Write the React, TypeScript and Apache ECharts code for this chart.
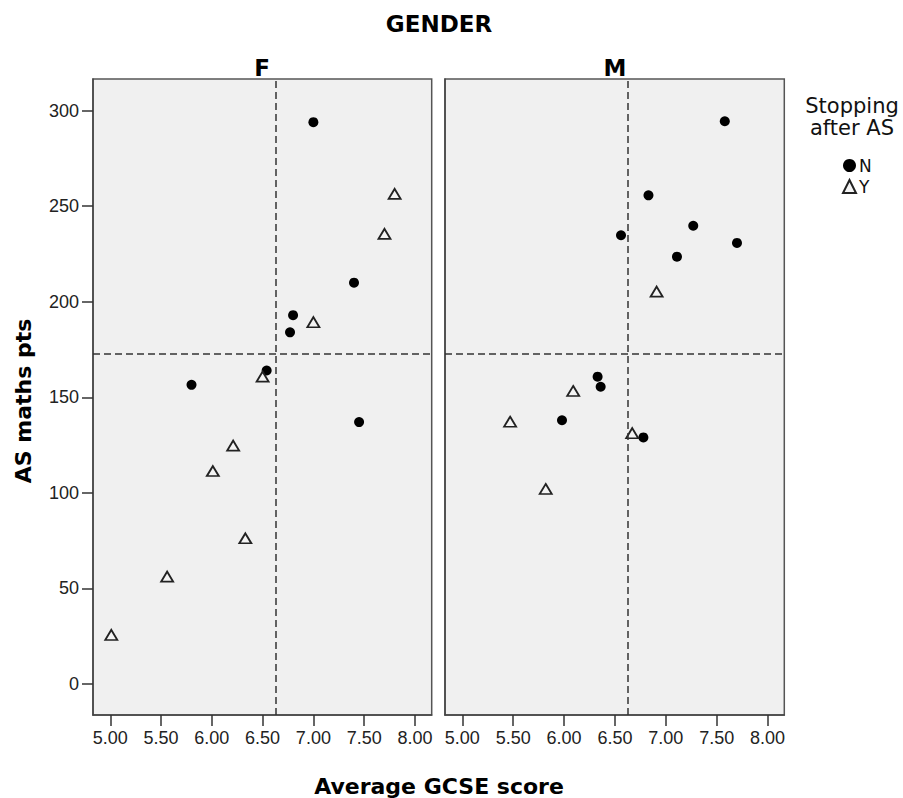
import React, { useEffect, useRef } from "react";
import * as echarts from "echarts";

// Average GCSE score (x) vs AS maths pts (y), by GENDER and Stopping after AS
const F_N: number[][] = [
  [7.0, 294], [7.4, 210], [6.8, 193], [6.77, 184], [6.54, 164], [5.8, 156.5], [7.45, 137],
];
const F_Y: number[][] = [
  [7.8, 256.5], [7.7, 235.5], [7.0, 189.3], [6.5, 160.8], [6.21, 124.7], [6.01, 111.4],
  [6.33, 76.2], [5.56, 56.1], [5.01, 25.6],
];
const M_N: number[][] = [
  [7.58, 294.5], [6.83, 255.7], [7.27, 239.8], [6.56, 234.8], [7.7, 230.8], [7.11, 223.6],
  [6.33, 160.8], [6.36, 155.5], [5.98, 138], [6.78, 129],
];
const M_Y: number[][] = [
  [6.91, 205.3], [6.09, 153.3], [5.47, 137.2], [6.67, 131.2], [5.82, 102],
];
const X_TICKS = [5, 5.5, 6, 6.5, 7, 7.5, 8];
const Y_TICKS = [0, 50, 100, 150, 200, 250, 300];
const MEAN_X = 6.63;
const MEAN_Y = 172.7;
const PANELS = ["F", "M"];

export default function App() {
  const ref = useRef<HTMLDivElement>(null);
  useEffect(() => {
    document.body.style.margin = "0";
    const chart = echarts.init(ref.current!, null, { renderer: "svg" });
    const tickFont = { fontSize: 18, fontFamily: "Liberation Sans, Arial", color: "#222" };
    const grids = [
      { left: 93, top: 79, width: 338.7, height: 636 },
      { left: 445, top: 79, width: 339.3, height: 636 },
    ].map((g) => ({
      ...g,
      show: true,
      backgroundColor: "#f0f0f0",
      borderColor: "#555",
      borderWidth: 1.5,
    }));
    const xAxes = [0, 1].map((i) => ({
      gridIndex: i,
      type: "value",
      min: 4.83,
      max: 8.165,
      axisLine: { show: true, onZero: false, lineStyle: { color: "#444", width: 1.5 } },
      axisTick: { show: true, length: 11, lineStyle: { color: "#333", width: 1.5 }, customValues: X_TICKS },
      axisLabel: { ...tickFont, margin: 14, customValues: X_TICKS, formatter: (v: number) => v.toFixed(2) },
      splitLine: { show: false },
    }));
    const yAxes = [0, 1].map((i) => ({
      gridIndex: i,
      type: "value",
      min: -16.3,
      max: 316.6,
      axisLine: { show: true, onZero: false, lineStyle: { color: "#444", width: 1.5 } },
      axisTick: { show: i === 0, length: 11, lineStyle: { color: "#333", width: 1.5 }, customValues: Y_TICKS },
      axisLabel: { show: i === 0, ...tickFont, margin: 14, customValues: Y_TICKS },
      splitLine: { show: false },
    }));
    const markLine = {
      silent: true,
      symbol: ["none", "none"],
      label: { show: false },
      lineStyle: { type: [7, 4], color: "#333", width: 1.5 },
      data: [{ xAxis: MEAN_X }, { yAxis: MEAN_Y }],
    };
    const nSeries = (data: number[][], i: number) => ({
      name: "N",
      type: "scatter",
      xAxisIndex: i,
      yAxisIndex: i,
      data,
      symbol: "circle",
      symbolSize: 10,
      itemStyle: { color: "#000", opacity: 1 },
      markLine,
      z: 3,
    });
    const ySeries = (data: number[][], i: number) => ({
      name: "Y",
      type: "scatter",
      xAxisIndex: i,
      yAxisIndex: i,
      data,
      symbol: "triangle",
      symbolSize: [12, 10],
      itemStyle: { color: "#f4f4f4", borderColor: "#222", borderWidth: 1.8, opacity: 1 },
      z: 3,
    });
    const titleFont = { fontFamily: "DejaVu Sans", fontWeight: "bold", fill: "#000" };
    chart.setOption({
      animation: false,
      grid: grids,
      xAxis: xAxes,
      yAxis: yAxes,
      legend: {
        data: ["N", "Y"],
        orient: "vertical",
        left: 837,
        top: 152,
        itemWidth: 13,
        itemHeight: 13,
        itemGap: 4,
        selectedMode: false,
        textStyle: { fontFamily: "DejaVu Sans", fontSize: 17, color: "#111", padding: [0, 0, 0, -2] },
      },
      series: [nSeries(F_N, 0), ySeries(F_Y, 0), nSeries(M_N, 1), ySeries(M_Y, 1)],
      graphic: [
        { type: "text", x: 439, y: 24, style: { ...titleFont, text: "GENDER", fontSize: 23, align: "center", verticalAlign: "middle" } },
        { type: "text", x: 262, y: 68, style: { ...titleFont, text: PANELS[0], fontSize: 23, align: "center", verticalAlign: "middle" } },
        { type: "text", x: 615, y: 68, style: { ...titleFont, text: PANELS[1], fontSize: 23, align: "center", verticalAlign: "middle" } },
        { type: "text", x: 439, y: 786, style: { ...titleFont, text: "Average GCSE score", fontSize: 22, align: "center", verticalAlign: "middle" } },
        { type: "text", x: 23, y: 401, rotation: Math.PI / 2, style: { ...titleFont, text: "AS maths pts", fontSize: 22, align: "center", verticalAlign: "middle" } },
        {
          type: "text",
          x: 852,
          y: 117,
          style: {
            text: "Stopping\nafter AS",
            fontFamily: "DejaVu Sans",
            fontSize: 21,
            lineHeight: 22,
            fill: "#111",
            align: "center",
            verticalAlign: "middle",
          },
        },
      ],
    });
    return () => chart.dispose();
  }, []);
  return <div ref={ref} style={{ width: 903, height: 798 }} />;
}
